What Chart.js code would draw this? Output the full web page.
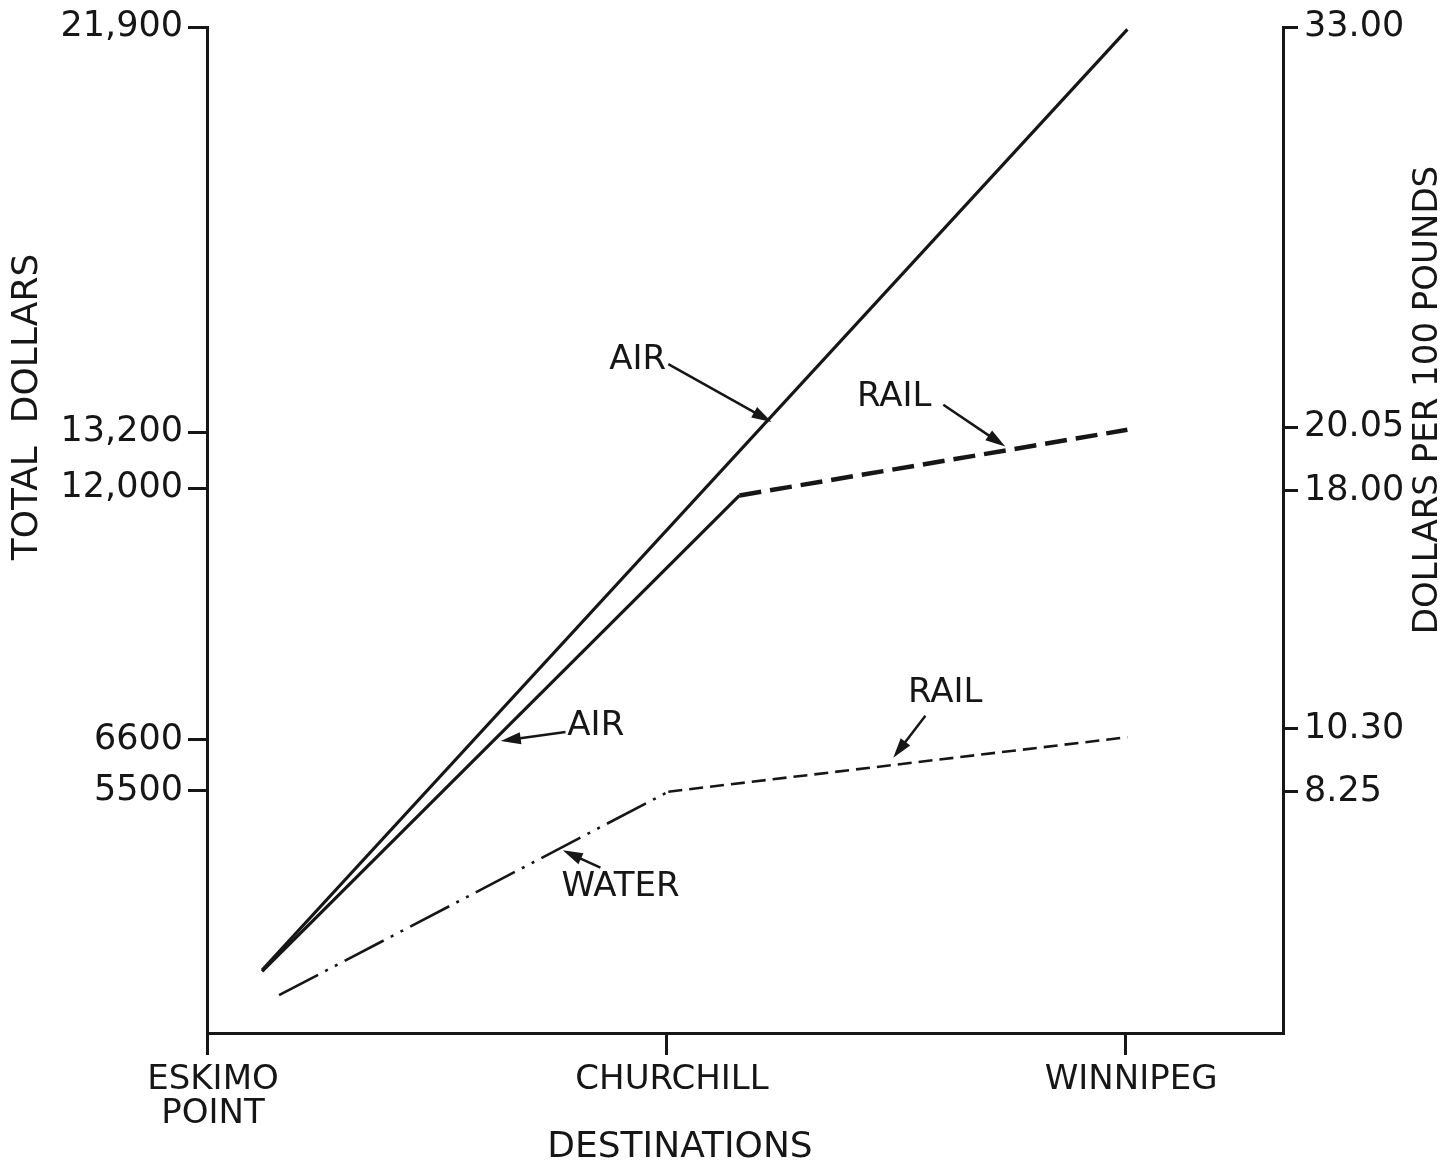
<!DOCTYPE html>
<html>
<head>
<meta charset="utf-8">
<script src="https://cdn.jsdelivr.net/npm/chart.js@4.4.1/dist/chart.umd.min.js"></script>
<style>
  html, body { margin: 0; padding: 0; background: #fff; }
  #wrap { width: 1455px; height: 1168px; }
</style>
</head>
<body>
<div id="wrap"><canvas id="costChart" width="1455" height="1168"></canvas></div>
<script>
// destinations along the bottom
const destPos = [0, 1, 2];
const destLabels = [['ESKIMO', 'POINT'], 'CHURCHILL', 'WINNIPEG'];

// left axis: total dollars
const totalTicks = [5500, 6600, 12000, 13200, 21900];
const totalTickLabels = ['5500', '6600', '12,000', '13,200', '21,900'];

// right axis: dollars per 100 pounds
const rateTicks = [8.25, 10.30, 18.00, 20.05, 33.00];
const rateTickLabels = ['8.25', '10.30', '18.00', '20.05', '33.00'];

// series (x = destination position, y = total dollars)
const airX = [0.12, 2.005];
const airTotal = [1650, 21850];
const airRailX = [0.12, 1.16, 2.005];
const airRailTotal = [1620, 11840, 13250];
const waterRailX = [0.157, 1.005, 2.005];
const waterRailTotal = [1110, 5480, 6650];

// labels with arrows, in data units
const notes = [
  { text: 'AIR',   tx: 0.938, ty: 14750, from: [1.005, 14660], to: [1.230, 13420] },
  { text: 'RAIL',  tx: 1.497, ty: 13960, from: [1.604, 13790], to: [1.739, 12890] },
  { text: 'AIR',   tx: 0.847, ty: 6890,  from: [0.781, 6760],  to: [0.640, 6570] },
  { text: 'RAIL',  tx: 1.608, ty: 7600,  from: [1.565, 7110],  to: [1.495, 6210] },
  { text: 'WATER', tx: 0.901, ty: 3420,  from: [0.857, 3850],  to: [0.775, 4220] }
];

const INK = '#161616';
const FONT = '"DejaVu Sans", sans-serif';

function pts(xs, ys) {
  return xs.map((x, i) => ({ x: x, y: ys[i] }));
}

const notesPlugin = {
  id: 'notes',
  afterDraw(chart) {
    const ctx = chart.ctx;
    const xs = chart.scales.x, ys = chart.scales.y;
    ctx.save();
    ctx.fillStyle = INK;
    ctx.strokeStyle = INK;
    ctx.font = '34px ' + FONT;
    ctx.textAlign = 'center';
    ctx.textBaseline = 'middle';
    notes.forEach(n => {
      ctx.fillText(n.text, xs.getPixelForValue(n.tx), ys.getPixelForValue(n.ty));
      const x0 = xs.getPixelForValue(n.from[0]), y0 = ys.getPixelForValue(n.from[1]);
      const x1 = xs.getPixelForValue(n.to[0]), y1 = ys.getPixelForValue(n.to[1]);
      const a = Math.atan2(y1 - y0, x1 - x0);
      const hl = 20, hw = 6;
      ctx.lineWidth = 2.5;
      ctx.beginPath();
      ctx.moveTo(x0, y0);
      ctx.lineTo(x1 - Math.cos(a) * hl * 0.8, y1 - Math.sin(a) * hl * 0.8);
      ctx.stroke();
      ctx.beginPath();
      ctx.moveTo(x1, y1);
      ctx.lineTo(x1 - Math.cos(a) * hl - Math.sin(a) * hw, y1 - Math.sin(a) * hl + Math.cos(a) * hw);
      ctx.lineTo(x1 - Math.cos(a) * hl + Math.sin(a) * hw, y1 - Math.sin(a) * hl - Math.cos(a) * hw);
      ctx.closePath();
      ctx.fill();
    });

    // axis titles
    ctx.font = '36px ' + FONT;
    ctx.fillText('DESTINATIONS', 680, 1148);
    ctx.save();
    ctx.translate(28, 407);
    ctx.rotate(-Math.PI / 2);
    ctx.fillText('TOTAL  DOLLARS', 0, 0);
    ctx.restore();
    ctx.font = '34px ' + FONT;
    ctx.save();
    ctx.translate(1428, 400);
    ctx.rotate(-Math.PI / 2);
    ctx.fillText('DOLLARS PER 100 POUNDS', 0, 0);
    ctx.restore();
    ctx.restore();
  }
};

const axisGrid = (len) => ({
  drawOnChartArea: false,
  drawTicks: true,
  tickLength: len,
  lineWidth: 3,
  color: INK
});

new Chart(document.getElementById('costChart'), {
  type: 'line',
  data: {
    datasets: [
      {
        label: 'Air',
        data: pts(airX, airTotal),
        borderColor: INK,
        borderWidth: 3.2,
        pointRadius: 0
      },
      {
        label: 'Air / Rail',
        data: pts(airRailX, airRailTotal),
        borderColor: INK,
        borderWidth: 3.2,
        pointRadius: 0,
        segment: {
          borderDash: c => c.p0DataIndex === 1 ? [22, 9] : undefined,
          borderWidth: c => c.p0DataIndex === 1 ? 4.5 : undefined
        }
      },
      {
        label: 'Water / Rail',
        data: pts(waterRailX, waterRailTotal),
        borderColor: INK,
        borderWidth: 2.6,
        pointRadius: 0,
        segment: {
          borderDash: c => c.p0DataIndex === 0 ? [44, 8, 3, 8, 3, 8] : [14, 7]
        }
      }
    ]
  },
  options: {
    responsive: false,
    animation: false,
    devicePixelRatio: 1,
    layout: { padding: { top: 24, bottom: 0, left: 0, right: 0 } },
    plugins: { legend: { display: false }, tooltip: { enabled: false } },
    scales: {
      x: {
        type: 'linear',
        position: 'bottom',
        min: 0,
        max: 2.344,
        afterBuildTicks: s => { s.ticks = destPos.map(v => ({ value: v })); },
        afterFit: s => { s.height = 135; },
        ticks: {
          color: INK,
          font: { family: FONT, size: 34, lineHeight: 1.0 },
          padding: 8,
          labelOffset: 6,
          maxRotation: 0,
          autoSkip: false,
          callback: (v, i) => destLabels[i]
        },
        grid: axisGrid(22),
        border: { display: true, width: 3, color: INK }
      },
      y: {
        type: 'linear',
        position: 'left',
        min: 298,
        max: 21900,
        afterBuildTicks: s => { s.ticks = totalTicks.map(v => ({ value: v })); },
        afterFit: s => { s.width = 207; },
        ticks: {
          color: INK,
          font: { family: FONT, size: 35 },
          padding: 5,
          autoSkip: false,
          callback: (v, i) => totalTickLabels[i]
        },
        grid: axisGrid(19),
        border: { display: true, width: 3, color: INK }
      },
      y2: {
        type: 'linear',
        position: 'right',
        min: 0.449,
        max: 33,
        afterBuildTicks: s => { s.ticks = rateTicks.map(v => ({ value: v })); },
        afterFit: s => { s.width = 172; },
        ticks: {
          color: INK,
          font: { family: FONT, size: 35 },
          padding: 6,
          autoSkip: false,
          callback: (v, i) => rateTickLabels[i]
        },
        grid: axisGrid(15),
        border: { display: true, width: 3, color: INK }
      }
    }
  },
  plugins: [notesPlugin]
});
</script>
</body>
</html>
